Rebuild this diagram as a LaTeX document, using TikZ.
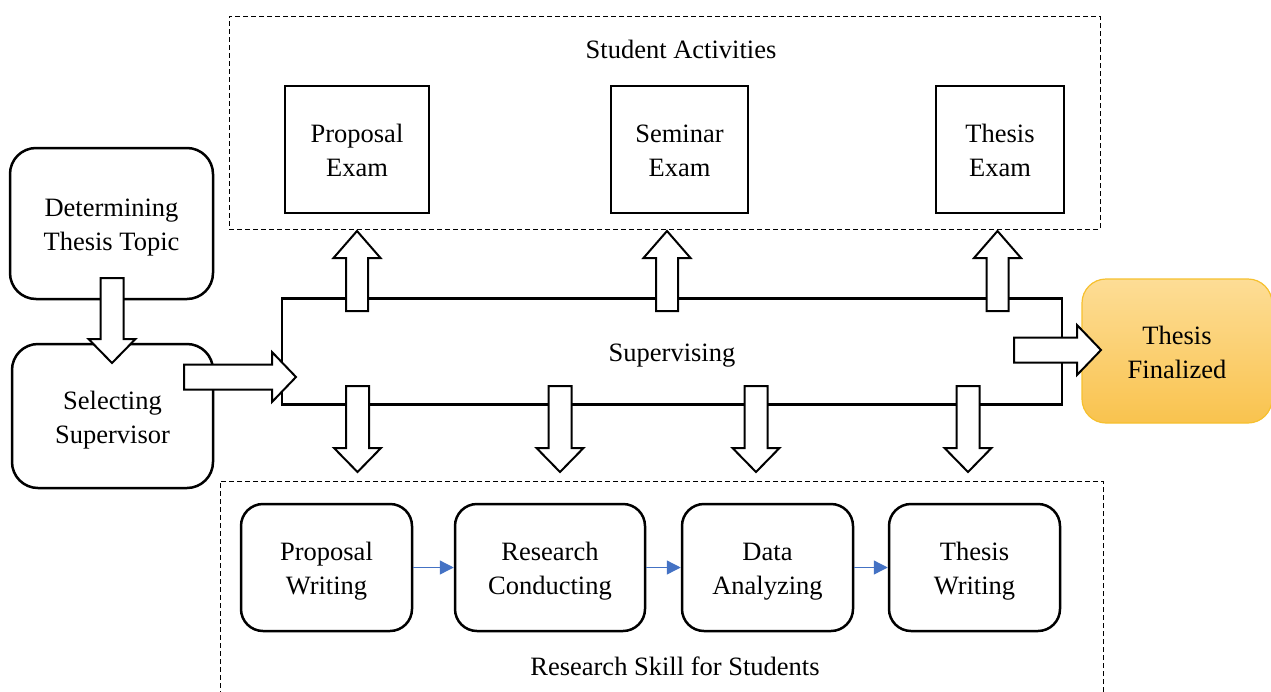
\documentclass[tikz,border=0pt]{standalone}
\usepackage{fontspec}
\setmainfont{Liberation Serif}
\usetikzlibrary{arrows.meta}
\definecolor{bluearr}{HTML}{4472C4}
\definecolor{tftop}{HTML}{FDDD96}
\definecolor{tfbot}{HTML}{F9C34E}
\definecolor{tfedge}{HTML}{F6C02E}
\newcommand\tx[1]{\raisebox{-9.5pt}[0pt][0pt]{\begin{tabular}{@{}c@{}}#1\end{tabular}}}
\tikzset{
  txt/.style={font=\fontsize{26.5}{34}\selectfont, text=black},
  dbox/.style={draw, dashed, dash pattern=on 5pt off 3pt, line width=0.8pt},
  sbox/.style={draw, line width=2.5pt, txt},
  rbox/.style={draw, line width=2.5pt, rounded corners=22pt, txt},
  blk/.style={draw, fill=white, line width=2pt, line join=miter},
  flow/.style={-{Triangle[length=14pt,width=14pt]}, draw=bluearr, line width=1.3pt},
}
\newcommand\darrow[3]{\draw[blk] (#1-11.5,#2) -- (#1+11.5,#2) -- (#1+11.5,#3-24) -- (#1+23.5,#3-24) -- (#1,#3) -- (#1-23.5,#3-24) -- (#1-11.5,#3-24) -- cycle;}
\newcommand\uarrow[3]{\draw[blk] (#1-11,#2) -- (#1+11,#2) -- (#1+11,#3+27) -- (#1+23.5,#3+27) -- (#1,#3) -- (#1-23.5,#3+27) -- (#1-11,#3+27) -- cycle;}
\newcommand\rarrow[3]{\draw[blk] (#2,#1-12.5) -- (#2,#1+12.5) -- (#3-24,#1+12.5) -- (#3-24,#1+25) -- (#3,#1) -- (#3-24,#1-25) -- (#3-24,#1-12.5) -- cycle;}
\begin{document}
\begin{tikzpicture}[x=1pt,y=-1pt]
\useasboundingbox (0,0) rectangle (1271,691);
\begin{scope}
\clip (0,0) rectangle (1271,691);
% containers
\node[dbox, minimum width=871pt, minimum height=213pt] (top) at (664.5,122.5) {};
\node[txt] (salab) at (681,49) {Student Activities};
\node[dbox, minimum width=883pt, minimum height=240pt] (bot) at (661.5,601) {};
\node[txt] (rslab) at (675,666) {Research Skill for Students};
% exam boxes
\node[sbox, minimum width=144pt, minimum height=127pt] (pe) at (357,149.5) {\tx{Proposal\\Exam}};
\node[sbox, minimum width=137pt, minimum height=127pt] (se) at (679.5,149.5) {\tx{Seminar\\Exam}};
\node[sbox, minimum width=128pt, minimum height=127pt] (te) at (1000,149.5) {\tx{Thesis\\Exam}};
% left boxes
\node[rbox, rounded corners=26pt, minimum width=203pt, minimum height=151pt] (dt) at (111.5,223.5) {\tx{Determining\\Thesis Topic}};
\node[rbox, rounded corners=26pt, minimum width=201pt, minimum height=144pt] (ss) at (112.5,416) {\tx{Selecting\\Supervisor}};
% supervising
\node[sbox, minimum width=780pt, minimum height=106pt] (sup) at (672,351.5) {};
\node[txt] (suplab) at (672,356) {Supervising};
% thesis finalized
\node[draw=tfedge, line width=1.2pt, rounded corners=24pt, top color=tftop, bottom color=tfbot, minimum width=190pt, minimum height=144pt, txt] (tf) at (1177,351) {\tx{Thesis\\Finalized}};
% bottom boxes
\node[rbox, minimum width=171pt, minimum height=127pt] (pw) at (326.5,567.5) {\tx{Proposal\\Writing}};
\node[rbox, minimum width=190pt, minimum height=127pt] (rc) at (550,567.5) {\tx{Research\\Conducting}};
\node[rbox, minimum width=171pt, minimum height=127pt] (da) at (767.5,567.5) {\tx{Data\\Analyzing}};
\node[rbox, minimum width=171pt, minimum height=127pt] (tw) at (974.5,567.5) {\tx{Thesis\\Writing}};
% flow arrows
\draw[flow] (pw.east) -- (rc.west);
\draw[flow] (rc.east) -- (da.west);
\draw[flow] (da.east) -- (tw.west);
% block arrows
\darrow{112}{278}{363}
\rarrow{377}{184}{296}
\uarrow{357}{311}{231}
\uarrow{667}{311}{231}
\uarrow{997.5}{311}{231}
\darrow{357.5}{386}{472}
\darrow{560}{386}{472}
\darrow{756}{386}{472}
\darrow{968}{386}{472}
\rarrow{350}{1014}{1101}
\end{scope}
\end{tikzpicture}
\end{document}
